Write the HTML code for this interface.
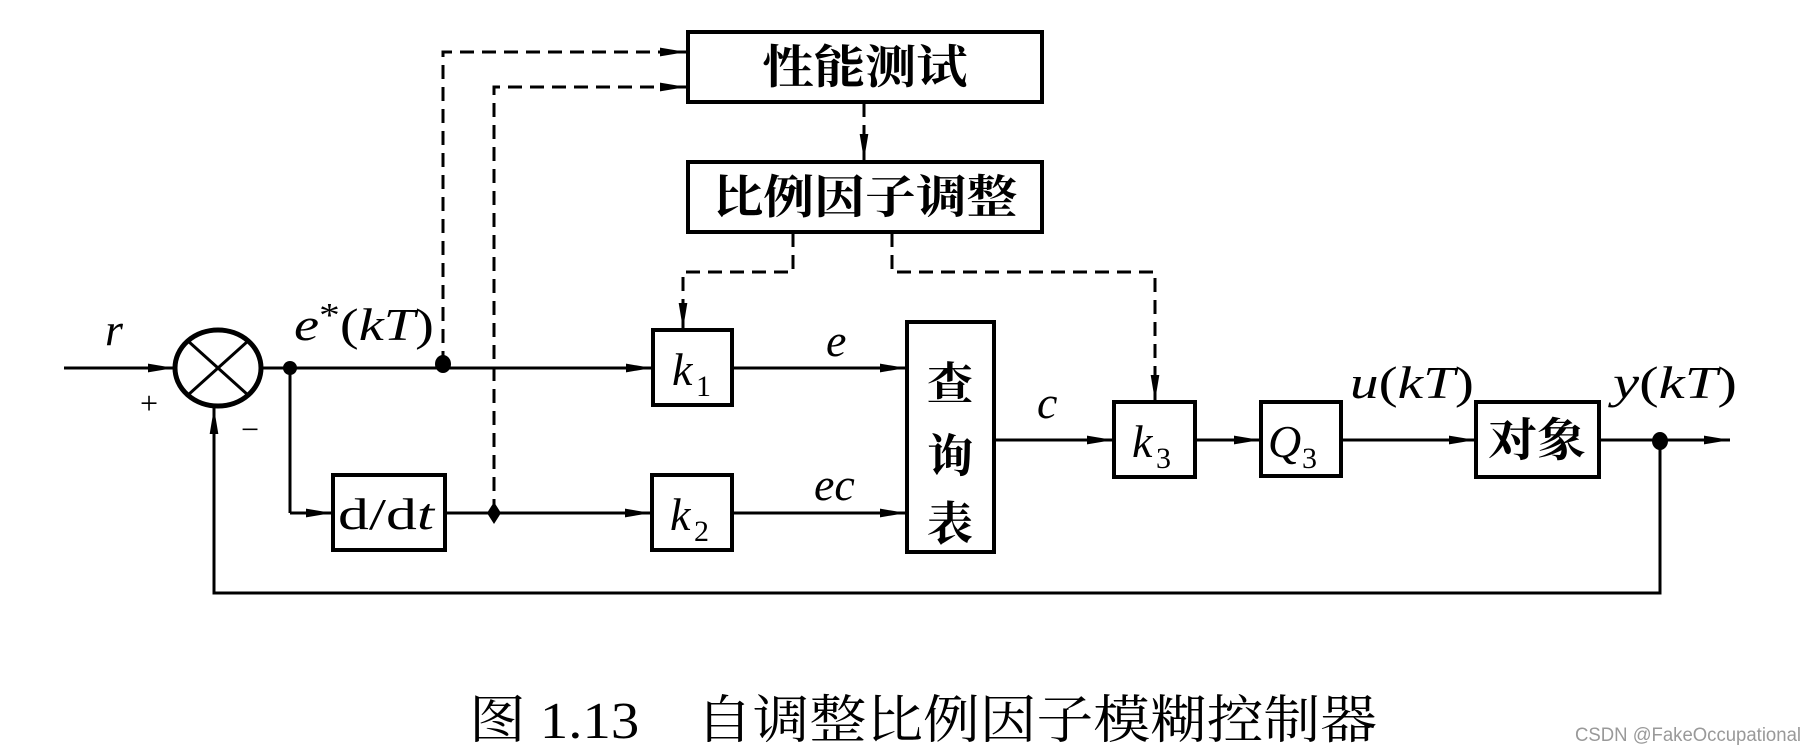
<!DOCTYPE html>
<html><head><meta charset="utf-8"><style>
html,body{margin:0;padding:0;background:#fff;}
svg{display:block;}
.cj{font-family:"Liberation Serif","Noto Serif CJK SC",serif;font-weight:bold;}
.it{font-family:"Liberation Serif",serif;font-style:italic;}
.rm{font-family:"Liberation Serif",serif;}
</style></head><body>
<svg width="1816" height="753" viewBox="0 0 1816 753" xmlns="http://www.w3.org/2000/svg">
<defs>
<marker id="b" viewBox="0 0 24 10" markerWidth="26" markerHeight="11" refX="24" refY="5" orient="auto" markerUnits="userSpaceOnUse">
<path d="M0,1 L24,5 L0,9 z" fill="#000"/>
</marker>
</defs>
<g stroke="#000" stroke-width="3" fill="none">
<line x1="64" y1="368" x2="174" y2="368" marker-end="url(#b)"/>
<ellipse cx="218" cy="368" rx="43" ry="38" stroke-width="5"/>
<line x1="188" y1="341" x2="248" y2="395"/>
<line x1="248" y1="341" x2="188" y2="395"/>
<line x1="261" y1="368" x2="652" y2="368" marker-end="url(#b)"/>
<line x1="290" y1="368" x2="290" y2="513"/>
<line x1="290" y1="513" x2="332" y2="513" marker-end="url(#b)"/>
<line x1="445" y1="513" x2="651" y2="513" marker-end="url(#b)"/>
<line x1="732" y1="368" x2="906" y2="368" marker-end="url(#b)"/>
<line x1="732" y1="513" x2="906" y2="513" marker-end="url(#b)"/>
<line x1="994" y1="440" x2="1113" y2="440" marker-end="url(#b)"/>
<line x1="1195" y1="440" x2="1260" y2="440" marker-end="url(#b)"/>
<line x1="1341" y1="440" x2="1475" y2="440" marker-end="url(#b)"/>
<line x1="1599" y1="440" x2="1730" y2="440" marker-end="url(#b)"/>
<polyline points="1660,440 1660,593 214,593 214,408"/>
<line x1="214" y1="440" x2="214" y2="408" marker-end="url(#b)"/>
<g stroke-dasharray="14,8">
<polyline points="443,365 443,52 670,52"/>
<polyline points="494,513 494,87 670,87"/>
<line x1="864" y1="103" x2="864" y2="142"/>
<polyline points="793,233 793,272 683,272 683,318"/>
<polyline points="892,233 892,272 1155,272 1155,390"/>
</g>
<line x1="660" y1="52" x2="686" y2="52" marker-end="url(#b)"/>
<line x1="660" y1="87" x2="686" y2="87" marker-end="url(#b)"/>
<line x1="864" y1="140" x2="864" y2="160" marker-end="url(#b)"/>
<line x1="683" y1="305" x2="683" y2="329" marker-end="url(#b)"/>
<line x1="1155" y1="378" x2="1155" y2="401" marker-end="url(#b)"/>
<g stroke-width="4">
<rect x="688" y="32" width="354" height="70"/>
<rect x="688" y="162" width="354" height="70"/>
<rect x="653" y="330" width="79" height="75"/>
<rect x="652" y="475" width="80" height="75"/>
<rect x="333" y="475" width="112" height="75"/>
<rect x="907" y="322" width="87" height="230"/>
<rect x="1114" y="402" width="81" height="75"/>
<rect x="1261" y="402" width="80" height="74"/>
<rect x="1476" y="402" width="123" height="75"/>
</g>
</g>
<g fill="#000">
<circle cx="290" cy="368" r="7"/>
<ellipse cx="443" cy="364" rx="8" ry="9"/>
<path d="M494,502 L501,513 L494,524 L487,513 z"/>
<ellipse cx="1660" cy="441" rx="8" ry="9"/>
</g>
<g class="cj" font-size="46" text-anchor="middle">
<text x="865" y="83" textLength="205" lengthAdjust="spacingAndGlyphs">性能测试</text>
<text x="865" y="213" textLength="305" lengthAdjust="spacingAndGlyphs">比例因子调整</text>
<text x="1537" y="456" textLength="98" lengthAdjust="spacingAndGlyphs">对象</text>
<text x="950" y="400">查</text>
<text x="950" y="472">询</text>
<text x="950" y="540">表</text>
</g>
<g font-size="46">
<text class="rm" x="338" y="529" font-size="44" textLength="96" lengthAdjust="spacingAndGlyphs">d/d<tspan class="it">t</tspan></text>
<text class="it" x="672" y="385">k</text><text class="rm" x="696" y="396" font-size="30">1</text>
<text class="it" x="670" y="530">k</text><text class="rm" x="694" y="541" font-size="30">2</text>
<text class="it" x="1132" y="457">k</text><text class="rm" x="1156" y="468" font-size="30">3</text>
<text class="it" x="1268" y="457">Q</text><text class="rm" x="1302" y="468" font-size="30">3</text>
<text class="it" x="105" y="345">r</text>
<text class="it" x="294" y="340" textLength="140" lengthAdjust="spacingAndGlyphs">e<tspan dy="-14" font-size="34" font-style="normal">*</tspan><tspan dy="14" font-style="normal">(</tspan>kT<tspan font-style="normal">)</tspan></text>
<text class="it" x="826" y="356">e</text>
<text class="it" x="814" y="500">ec</text>
<text class="it" x="1037" y="418">c</text>
<text class="it" x="1350" y="398" textLength="124" lengthAdjust="spacingAndGlyphs">u<tspan font-style="normal">(</tspan>kT<tspan font-style="normal">)</tspan></text>
<text class="it" x="1613" y="398" textLength="124" lengthAdjust="spacingAndGlyphs">y<tspan font-style="normal">(</tspan>kT<tspan font-style="normal">)</tspan></text>
<text class="rm" x="140" y="414" font-size="32">+</text>
<text class="rm" x="241" y="440" font-size="32">−</text>
</g>
<text x="469" y="738" font-family="'Liberation Serif','Noto Serif CJK SC',serif" font-size="52" textLength="908" lengthAdjust="spacingAndGlyphs">图 1.13　自调整比例因子模糊控制器</text>
<text x="1575" y="741" font-family="'Liberation Sans',sans-serif" font-size="19" fill="#999" textLength="226" lengthAdjust="spacingAndGlyphs">CSDN @FakeOccupational</text>
</svg>
</body></html>
